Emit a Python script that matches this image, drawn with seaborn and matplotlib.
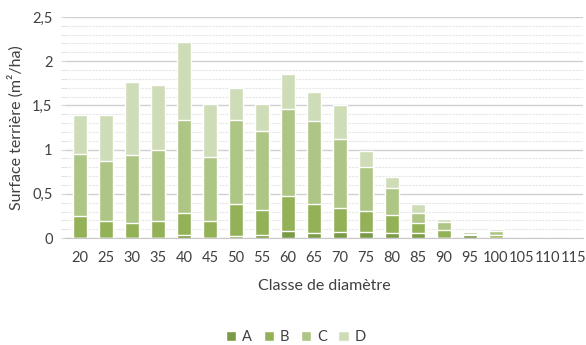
import numpy as np
import pandas as pd
import matplotlib
matplotlib.use("Agg")
import matplotlib.pyplot as plt
from matplotlib.ticker import MultipleLocator, FuncFormatter
from matplotlib.patches import Patch
import seaborn as sns

# Données
classes = ["20", "25", "30", "35", "40", "45", "50", "55", "60", "65",
           "70", "75", "80", "85", "90", "95", "100", "105", "110", "115"]
serie_A = [0, 0, 0, 0, 0.04, 0, 0.02, 0.04, 0.075, 0.06,
           0.065, 0.065, 0.06, 0.055, 0, 0.03, 0, 0, 0, 0]
serie_B = [0.25, 0.19, 0.17, 0.19, 0.245, 0.19, 0.365, 0.28, 0.40, 0.33,
           0.275, 0.24, 0.205, 0.11, 0.09, 0.015, 0.04, 0, 0, 0]
serie_C = [0.70, 0.685, 0.77, 0.81, 1.045, 0.73, 0.95, 0.89, 0.98, 0.935,
           0.78, 0.495, 0.305, 0.12, 0.09, 0.025, 0.04, 0, 0, 0]
serie_D = [0.44, 0.515, 0.825, 0.73, 0.89, 0.60, 0.365, 0.30, 0.40, 0.325,
           0.38, 0.185, 0.12, 0.095, 0.04, 0.015, 0.02, 0, 0, 0]
noms = ["A", "B", "C", "D"]
couleurs = ["#7b9a47", "#93b156", "#adc585", "#cfdcb8"]

df = pd.DataFrame({"classe": classes, "A": serie_A, "B": serie_B,
                   "C": serie_C, "D": serie_D})
cumul = df[noms].cumsum(axis=1)

sns.set_style("white")
plt.rcParams["font.family"] = ["Lato", "DejaVu Sans"]

fig, ax = plt.subplots(figsize=(5.86, 3.45), dpi=100)
fig.subplots_adjust(left=0.111, right=0.995, bottom=0.31, top=0.951)

# Barres empilées : on trace les cumuls du haut vers le bas
for nom, coul in reversed(list(zip(noms, couleurs))):
    sns.barplot(x=df["classe"], y=cumul[nom], color=coul, width=0.55,
                ax=ax, saturation=1, zorder=3)

ax.set_ylim(0, 2.5)
ax.set_xlim(-0.58, len(classes) - 0.65)
ax.yaxis.set_major_locator(MultipleLocator(0.5))
ax.yaxis.set_minor_locator(MultipleLocator(0.1))
ax.yaxis.set_major_formatter(FuncFormatter(lambda v, p: f"{v:g}".replace(".", ",")))
ax.grid(axis="y", which="major", color="#d0d0d0", linewidth=1, zorder=0)
ax.grid(axis="y", which="minor", color="#e6e6e6", linewidth=0.8,
        linestyle=(0, (2, 1)), zorder=0)
ax.tick_params(axis="y", which="both", left=True, length=3, color="#d9d9d9",
               labelsize=10.5, labelcolor="#404040", pad=6)
ax.tick_params(axis="x", bottom=False, labelsize=10.5, labelcolor="#404040", pad=6)

for s in ["top", "right", "left"]:
    ax.spines[s].set_visible(False)
ax.spines["bottom"].set_color("#c8c8c8")

ax.set_ylabel("Surface terrière (m²/ha)", fontsize=11.5, color="#404040", labelpad=6)
ax.set_xlabel("Classe de diamètre", fontsize=11.5, color="#404040", labelpad=10)

poignees = [Patch(facecolor=c, label=n) for n, c in zip(noms, couleurs)]
fig.legend(handles=poignees, loc="lower center", ncol=4, frameon=False,
           fontsize=10.5, handlelength=0.7, handleheight=0.7, handletextpad=0.4,
           columnspacing=0.8, bbox_to_anchor=(0.505, -0.035), labelcolor="#404040")

plt.savefig("out.png", dpi=100)
plt.close()
